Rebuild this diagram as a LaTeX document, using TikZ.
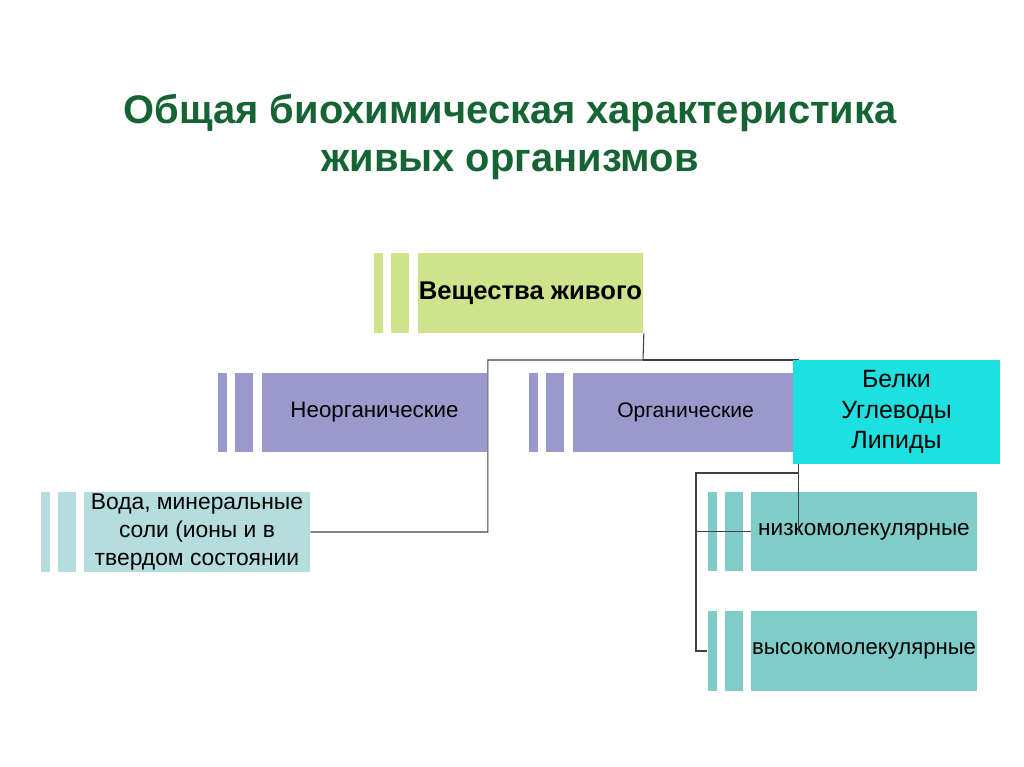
\documentclass[tikz,border=0pt]{standalone}
\usepackage{fontspec}
\setmainfont{Liberation Sans}
\usetikzlibrary{positioning}
\definecolor{titlegreen}{RGB}{22,100,52}
\definecolor{livegreen}{RGB}{206,228,140}
\definecolor{groupblue}{RGB}{153,153,204}
\definecolor{brightcyan}{RGB}{30,224,224}
\definecolor{paleteal}{RGB}{182,221,222}
\definecolor{midteal}{RGB}{128,204,200}

\begin{document}
\begin{tikzpicture}[x=0.02cm, y=-0.02cm,
    box node/.style={rectangle, inner sep=0pt, minimum width=4.52cm, minimum height=1.6cm, align=center, text=black},
    strip wide/.style={rectangle, inner sep=0pt, minimum width=0.36cm, minimum height=1.6cm},
    strip thin/.style={rectangle, inner sep=0pt, minimum width=0.18cm, minimum height=1.6cm},
    link/.style={draw=black!75, line width=0.6pt}, node distance=0.15cm]
    \useasboundingbox (0,0) rectangle (1024,767);

    \node[font=\bfseries\fontsize{22.7}{27.5}\selectfont, text=titlegreen, align=center] (title) at (510,137) {Общая биохимическая характеристика\\живых организмов};

    \node[box node, fill=livegreen, font=\bfseries\fontsize{14.6}{17}\selectfont] (living) at (530.5,293) {Вещества живого};
    \node[strip wide, fill=livegreen, left=of living] (living s2) {};
    \node[strip thin, fill=livegreen, left=of living s2] (living s1) {};

    \node[box node, fill=groupblue, font=\fontsize{12.7}{15}\selectfont] (inorg) at (374.5,412.5) {Неорганические};
    \node[strip wide, fill=groupblue, left=of inorg] (inorg s2) {};
    \node[strip thin, fill=groupblue, left=of inorg s2] (inorg s1) {};

    \node[box node, fill=groupblue, font=\fontsize{12}{14}\selectfont] (org) at (685.5,412.5) {Органические};
    \node[strip wide, fill=groupblue, left=of org] (org s2) {};
    \node[strip thin, fill=groupblue, left=of org s2] (org s1) {};

    \node[box node, fill=paleteal, font=\fontsize{13}{16}\selectfont] (water) at (197,532) {Вода, минеральные\\соли (ионы и в\\твердом состоянии};
    \node[strip wide, fill=paleteal, left=of water] (water s2) {};
    \node[strip thin, fill=paleteal, left=of water s2] (water s1) {};

    \node[box node, fill=midteal, font=\fontsize{12.85}{15}\selectfont] (low) at (864,531.5) {низкомолекулярные};
    \node[strip wide, fill=midteal, left=of low] (low s2) {};
    \node[strip thin, fill=midteal, left=of low s2] (low s1) {};

    \node[box node, fill=midteal, font=\fontsize{12.6}{15}\selectfont] (high) at (864,651) {высокомолекулярные};
    \node[strip wide, fill=midteal, left=of high] (high s2) {};
    \node[strip thin, fill=midteal, left=of high s2] (high s1) {};

    % connectors
    \coordinate (top hub) at (643,360);
    \coordinate (sub hub) at (696,473);
    \draw[link] (living.south east) -- (top hub) -| (inorg.north east) |- (water.east);
    \draw[link] (top hub) -| (org.north east) -- (org.north east |- low.west);
    \draw[link] (sub hub -| org.north east) -- (sub hub) |- (high s1.west);
    \draw[link] (sub hub |- low.west) -- (low.west);

    \node[box node, fill=brightcyan, minimum width=4.14cm, minimum height=2.08cm, font=\fontsize{14.2}{17.5}\selectfont] (extra) at (896.5,412) {Белки\\Углеводы\\Липиды};
\end{tikzpicture}
\end{document}
